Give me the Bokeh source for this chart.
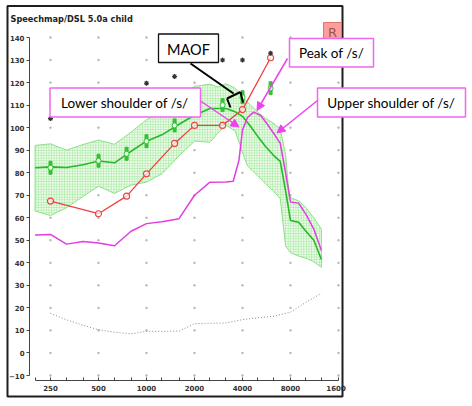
import itertools

from bokeh.embed import file_html
from bokeh.models import Arrow, BoxAnnotation, FixedTicker, Label, NormalHead
from bokeh.plotting import figure
from bokeh.resources import INLINE

# ---- Speechmap data (frequency in Hz, level in dB SPL) ----
x_ticks = [250, 500, 1000, 2000, 4000, 8000, 16000]
x_minor = [200, 315, 400, 630, 800, 1250, 1600, 2500, 3150, 5000, 6300, 10000, 12500]
y_ticks = list(range(-10, 141, 10))

# speech envelope (upper / lower limits) and its average
upper_f = [200, 250, 315, 400, 500, 630, 800, 1000, 1250, 1600, 2000, 2500, 2800,
           3150, 3600, 4000, 4500, 5000, 5600, 6300, 6900, 7450, 7850, 8000, 9000,
           10000, 11200, 12500]
upper_db = [92.1, 92.8, 90.0, 92.5, 94.5, 92.6, 98.0, 103.5, 107.5, 114.0, 118.3,
            119.3, 118.0, 119.5, 117.5, 113.5, 110.0, 106.8, 104.0, 101.8, 99.5,
            88.0, 70.0, 69.0, 67.5, 64.5, 60.0, 55.0]

lower_f = [200, 250, 315, 400, 500, 630, 800, 1000, 1250, 1600, 2000, 2500, 2800,
           3150, 3600, 4000, 4300, 5000, 5600, 6300, 6900, 7450, 8000, 9000, 10000,
           11200, 12500]
lower_db = [63.0, 61.0, 64.5, 69.5, 74.0, 70.8, 74.5, 75.8, 79.5, 87.5, 94.0, 93.5,
            97.5, 101.0, 98.5, 89.0, 83.0, 78.5, 75.0, 71.5, 68.5, 47.5, 44.5, 43.0,
            42.0, 40.5, 38.0]

ltass_f = [200, 250, 315, 400, 500, 630, 800, 1000, 1250, 1600, 2000, 2500, 3150,
           3600, 4000, 4500, 5000, 5600, 6300, 6900, 7450, 8000, 9000, 10000, 11200,
           12500]
ltass_db = [82.2, 82.6, 82.3, 83.5, 85.2, 84.4, 89.5, 94.0, 96.8, 101.5, 105.5,
            108.5, 108.5, 107.0, 105.0, 100.5, 96.0, 91.5, 87.5, 85.0, 72.0, 58.8,
            58.0, 54.0, 50.0, 41.5]

# aided /s/ spectrum
s_f = [200, 250, 315, 400, 500, 630, 800, 1000, 1250, 1600, 2000, 2500, 3150, 3500,
       3800, 4000, 4300, 4700, 5200, 5700, 6300, 6900, 7450, 8000, 9000, 10000,
       11200, 12500]
s_db = [52.3, 52.6, 48.3, 49.5, 48.8, 47.6, 54.0, 57.4, 58.2, 59.6, 70.0, 75.8, 75.9,
        76.2, 85.5, 99.0, 104.5, 106.9, 105.4, 101.7, 97.3, 93.0, 80.0, 67.0, 66.5,
        61.5, 55.0, 45.5]

# hearing threshold
thr_f = [250, 315, 400, 500, 630, 800, 1000, 1250, 1600, 2000, 2500, 3150, 4000,
         5000, 6300, 8000, 10000, 12500]
thr_db = [17.6, 14.7, 12.3, 10.3, 9.2, 8.5, 9.6, 9.6, 9.7, 13.0, 13.2, 13.3, 14.8,
          15.6, 16.3, 18.1, 22.5, 26.5]

# DSL targets
target_f = [250, 500, 750, 1000, 1500, 3000, 4000, 6000]
target_db = [82.2, 85.3, 88.4, 94.0, 101.0, 110.0, 113.5, 117.5]

# MPO curve
mpo_f = [250, 500, 750, 1000, 1500, 2000, 3000, 4000, 6000]
mpo_db = [67.4, 61.8, 69.6, 79.5, 93.0, 101.0, 101.0, 108.0, 131.0]

# RESR targets
resr_f = [250, 1000, 1500, 3000, 4000, 6000]
resr_db = [104.0, 119.7, 122.7, 130.0, 130.0, 133.0]

W, H = 472, 406
AXIS_X, AXIS_Y = 29, 379.5   # canvas pixels of the y axis and the x axis
OCT_PX = 48.0                # pixels per octave
DB_PX = 338.0 / 150.0        # pixels per dB
X250, Y140 = 50.0, 37.0


def fx(px):
    """canvas x pixel -> frequency"""
    return 250.0 * 2 ** ((px - X250) / OCT_PX)


def fy(py):
    """canvas y pixel -> dB"""
    return 140.0 - (py - Y140) / DB_PX


# the plotting frame fills the whole canvas; axes sit at fixed positions inside it
p = figure(width=W, height=H, x_axis_type="log",
           x_range=(fx(0), fx(W)), y_range=(fy(H), fy(0)),
           output_backend="svg", toolbar_location=None, min_border=0)
p.title.visible = False
p.outline_line_color = None
p.grid.visible = False
p.background_fill_color = "white"
p.border_fill_color = "white"

ax = p.xaxis[0]
ax.fixed_location = fy(AXIS_Y)
ax.ticker = FixedTicker(ticks=x_ticks, minor_ticks=x_minor)
ax.major_label_overrides = {t: str(t) for t in x_ticks}
ax.bounds = (200, 16000)
ax.major_tick_in, ax.major_tick_out = 3, 0
ax.minor_tick_in, ax.minor_tick_out = 3, 0
ax.major_label_standoff = 5

ay = p.yaxis[0]
ay.fixed_location = fx(AXIS_X)
ay.ticker = FixedTicker(ticks=y_ticks, minor_ticks=[])
ay.bounds = (-10, 140)
ay.major_tick_in, ay.major_tick_out = 0, 3
ay.major_label_standoff = 2

for a in (ax, ay):
    a.axis_line_color = "#444444"
    a.major_tick_line_color = "#444444"
    a.minor_tick_line_color = "#444444"
    a.major_label_text_font = "DejaVu Sans"
    a.major_label_text_font_size = "7px"
    a.major_label_text_color = "#333333"
    a.major_label_text_font_style = "bold"

# dotted grid: one dot per tick crossing
gx, gy = zip(*itertools.product(x_ticks, y_ticks))
p.scatter(list(gx), list(gy), marker="square", size=1.3, color="#b8b8b8")

# speech envelope
env_x = upper_f + lower_f[::-1]
env_y = upper_db + lower_db[::-1]
p.patch(env_x, env_y, fill_color="#effcec", line_color="#8fe08a", line_width=1,
        hatch_pattern="+", hatch_color="#a6e8a1", hatch_scale=2.6, hatch_weight=0.7)
p.line(ltass_f, ltass_db, line_color="#27b827", line_width=1.6)

# threshold
p.line(thr_f, thr_db, line_color="#8a8a8a", line_width=1, line_dash="1 2")

# /s/ spectrum
p.line(s_f, s_db, line_color="#e23ee2", line_width=1.5)

# MPO
p.line(mpo_f, mpo_db, line_color="#f04040", line_width=1.3)
p.scatter(mpo_f, mpo_db, marker="circle", size=6, line_color="#f04040",
          fill_color="white", fill_alpha=0.7, line_width=1.1)

# DSL targets
p.rect(target_f, target_db, width=3, height=13, width_units="screen",
       height_units="screen", color="#35c035")
p.scatter(target_f, target_db, marker="circle", size=5, line_color="#35c035",
          fill_color="#eaffea", line_width=1)

# RESR targets
p.scatter(resr_f, resr_db, marker="asterisk", size=5, line_color="#333333",
          line_width=1.1)


# ---- frame, header and callouts ----
def box(x0, y0, x1, y1, line, fill="white", width=1.5, fill_alpha=1.0):
    p.add_layout(BoxAnnotation(left=fx(x0), right=fx(x1), top=fy(y0), bottom=fy(y1),
                               fill_color=fill, fill_alpha=fill_alpha,
                               line_color=line, line_width=width, line_alpha=1.0))


def text(x, y, s, size="13.5px", font="Lato", color="black", style="normal",
         align="center", baseline="middle"):
    p.add_layout(Label(x=fx(x), y=fy(y), text=s, text_font=font,
                       text_font_size=size, text_color=color,
                       text_font_style=style, text_align=align,
                       text_baseline=baseline))


def seg(x0, y0, x1, y1, color, width, head=None):
    p.add_layout(Arrow(x_start=fx(x0), y_start=fy(y0), x_end=fx(x1), y_end=fy(y1),
                       line_color=color, line_width=width, end=head))


# the window ends at the right frame edge, cutting the last tick label
box(345.5, 381, 372, 397, None, fill="white", width=0)
box(7, 5.5, 342, 396, "#1e1e1e", fill=None, width=2, fill_alpha=0)
text(10, 18, "Speechmap/DSL 5.0a child", size="8.2px", font="DejaVu Sans",
     style="bold", align="left", baseline="alphabetic", color="#222222")

box(323, 22, 341, 41, "#e07272", fill="#ff9d9d", width=1)
text(332, 32, "R", size="13px", font="DejaVu Sans", color="#9a5555")

MAG = "#f040f0"
BOXMAG = "#f066f0"


def head():
    return NormalHead(size=8, fill_color=MAG, line_color=MAG, line_width=1)


# MAOF callout
seg(190, 63, 233, 93, "black", 2)
seg(230, 107, 226.5, 98, "black", 2)
seg(226.5, 98, 240, 91.5, "black", 2)
seg(240, 91.5, 242.5, 102, "black", 2)
box(158, 33.5, 218, 62, "#111111", width=1.3)
text(188, 48.5, "MAOF", size="14.5px")

# /s/ callouts
seg(200, 100.5, 238.5, 126.5, MAG, 1.5, head())
seg(287, 58, 256.5, 110, MAG, 1.5, head())
seg(317, 100, 276.5, 132.5, MAG, 1.5, head())

box(49.5, 87.5, 200, 116.5, BOXMAG)
text(124.5, 102, "Lower shoulder of /s/")
box(289, 38, 373, 66.5, BOXMAG)
text(331, 52, "Peak of /s/")
box(317, 87.5, 465, 116.5, BOXMAG)
text(391, 102, "Upper shoulder of /s/")

open("out.html", "w").write(file_html(p, INLINE))
